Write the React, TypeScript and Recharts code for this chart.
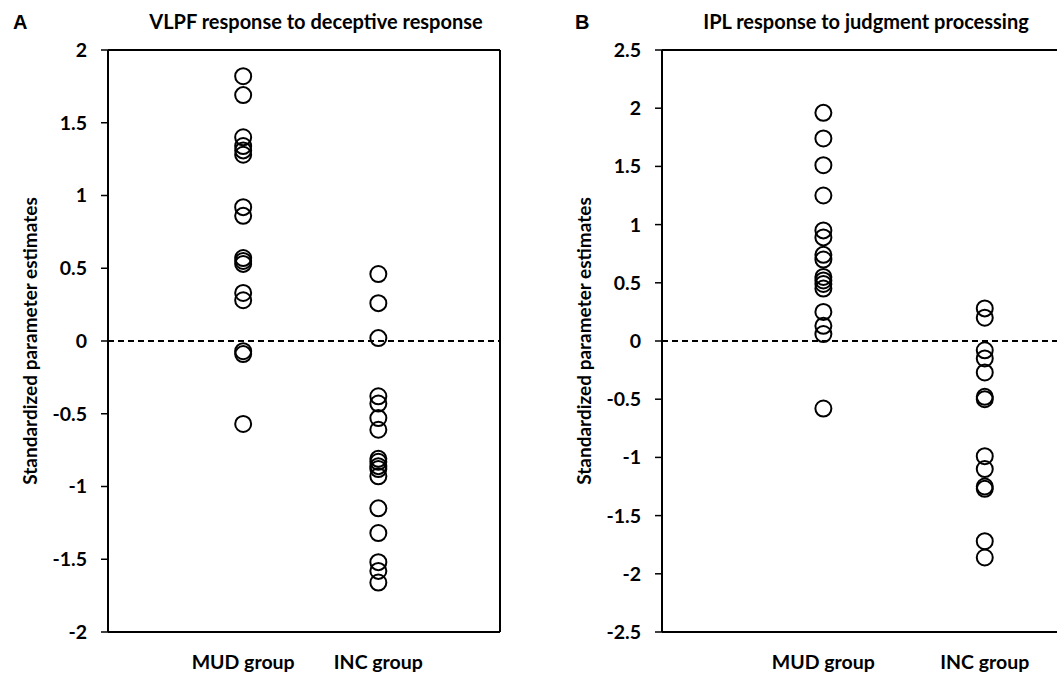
import React from 'react';
import {
  ScatterChart,
  Scatter,
  XAxis,
  YAxis,
  ReferenceLine,
} from 'recharts';

// category names and their slot on the x axis
const groups = ['MUD group', 'INC group'];
const groupSlots = [1, 2];

// panel A: VLPF response to deceptive response
const mudA = [1.82, 1.69, 1.4, 1.34, 1.31, 1.28, 0.92, 0.86, 0.57, 0.55, 0.53, 0.33, 0.28, -0.07, -0.09, -0.57];
const incA = [0.46, 0.26, 0.02, -0.38, -0.43, -0.53, -0.61, -0.81, -0.83, -0.86, -0.88, -0.93, -1.15, -1.32, -1.52, -1.58, -1.66];
const ticksA = [-2, -1.5, -1, -0.5, 0, 0.5, 1, 1.5, 2];

// panel B: IPL response to judgment processing
const mudB = [1.96, 1.74, 1.51, 1.25, 0.95, 0.89, 0.74, 0.7, 0.55, 0.52, 0.49, 0.45, 0.25, 0.13, 0.06, -0.58];
const incB = [0.28, 0.2, -0.08, -0.15, -0.27, -0.48, -0.5, -0.99, -1.1, -1.25, -1.27, -1.72, -1.86];
const ticksB = [-2.5, -2, -1.5, -1, -0.5, 0, 0.5, 1, 1.5, 2, 2.5];

const FONT = 'Lato, "Open Sans", sans-serif';
const X_MAX = 2.9;
const Y_AXIS_W = 60;

const toPoints = (vals: number[], slot: number) => vals.map((y) => ({ x: slot, y }));

const RingDot = (props: any) => (
  <circle cx={props.cx} cy={props.cy} r={8} fill="none" stroke="#000" strokeWidth={2} />
);

interface PanelProps {
  letter: string;
  title: string;
  mud: number[];
  inc: number[];
  ticks: number[];
  left: number; // page x of the panel box
  axisX: number; // y axis position inside the box
  plotW: number;
  titleX: number;
  letterX: number;
}

const Panel: React.FC<PanelProps> = ({ letter, title, mud, inc, ticks, left, axisX, plotW, titleX, letterX }) => {
  const lo = ticks[0];
  const hi = ticks[ticks.length - 1];
  const width = axisX + plotW + 13;
  return (
    <div style={{ position: 'absolute', left, top: 0, width, height: 674 }}>
      <div
        style={{
          position: 'absolute',
          left: letterX,
          top: 12,
          fontFamily: 'Arial, "Liberation Sans", sans-serif',
          fontWeight: 700,
          fontSize: 20,
          lineHeight: '20px',
        }}
      >
        {letter}
      </div>
      <div
        style={{
          position: 'absolute',
          left: titleX - 250,
          width: 500,
          top: 11,
          textAlign: 'center',
          fontFamily: FONT,
          fontWeight: 700,
          fontSize: 20,
          lineHeight: '20px',
        }}
      >
        {title}
      </div>
      <div
        style={{
          position: 'absolute',
          left: axisX - 78 - 200,
          top: 341 - 12,
          width: 400,
          textAlign: 'center',
          transform: 'rotate(-90deg)',
          fontFamily: FONT,
          fontWeight: 700,
          fontSize: 19,
          lineHeight: '24px',
        }}
      >
        Standardized parameter estimates
      </div>
      <ScatterChart
        width={width}
        height={674}
        margin={{ top: 50, right: 13, bottom: 0, left: axisX - Y_AXIS_W }}
        style={{ position: 'absolute', left: 0, top: 0 }}
      >
        <XAxis
          type="number"
          dataKey="x"
          domain={[0, X_MAX]}
          ticks={groupSlots}
          tickFormatter={(v: number) => groups[groupSlots.indexOf(v)] ?? ''}
          tickLine={false}
          axisLine={{ stroke: '#000', strokeWidth: 2 }}
          tickMargin={17}
          height={42}
          tick={{ fill: '#000', fontFamily: FONT, fontWeight: 700, fontSize: 19.5 }}
        />
        <YAxis
          type="number"
          dataKey="y"
          domain={[lo, hi]}
          ticks={ticks}
          interval={0}
          width={Y_AXIS_W}
          tickSize={7}
          tickMargin={14}
          axisLine={{ stroke: '#000', strokeWidth: 2 }}
          tickLine={{ stroke: '#000', strokeWidth: 1.5 }}
          tick={{ fill: '#000', fontFamily: FONT, fontWeight: 700, fontSize: 19.5 }}
        />
        <ReferenceLine y={hi} stroke="#000" strokeWidth={2} />
        <ReferenceLine x={X_MAX} stroke="#000" strokeWidth={2} />
        <ReferenceLine y={0} stroke="#000" strokeWidth={2} strokeDasharray="6 4" />
        <Scatter data={toPoints(mud, groupSlots[0])} shape={RingDot} isAnimationActive={false} />
        <Scatter data={toPoints(inc, groupSlots[1])} shape={RingDot} isAnimationActive={false} />
      </ScatterChart>
    </div>
  );
};

const App: React.FC = () => (
  <div
    style={{
      position: 'fixed',
      left: 0,
      top: 0,
      width: 1057,
      height: 674,
      overflow: 'hidden',
      background: '#fff',
    }}
  >
    <Panel
      letter="A"
      title="VLPF response to deceptive response"
      mud={mudA}
      inc={incA}
      ticks={ticksA}
      left={0}
      axisX={108}
      plotW={392}
      titleX={316}
      letterX={13}
    />
    <Panel
      letter="B"
      title="IPL response to judgment processing"
      mud={mudB}
      inc={incB}
      ticks={ticksB}
      left={530}
      axisX={132}
      plotW={468}
      titleX={336}
      letterX={45}
    />
  </div>
);

export default App;
